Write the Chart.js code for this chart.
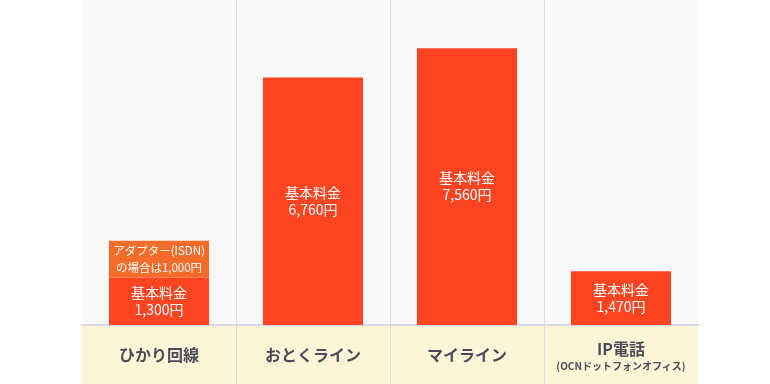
<!DOCTYPE html>
<html>
<head>
<meta charset="utf-8">
<script src="https://cdn.jsdelivr.net/npm/chart.js@4"></script>
<style>
  html, body { margin: 0; padding: 0; background: #fff; }
  #wrap { width: 770px; height: 384px; }
</style>
</head>
<body>
<div id="wrap"><canvas id="grafico"></canvas></div>
<script>
// datos
var categorias = ["ひかり回線", "おとくライン", "マイライン", "IP電話"];
var subtitulos = ["", "", "", "(OCNドットフォンオフィス)"];
var basico = [1300, 6760, 7560, 1470];
var adaptador = [1000, 0, 0, 0];

var fuente = '"Noto Sans CJK JP", "Noto Sans", sans-serif';

function yen(v) {
  return v.toLocaleString("en-US") + "円";
}

// fondo del área y franja beige de las categorías
var fondo = {
  id: "fondo",
  beforeDraw: function (chart) {
    var c = chart.ctx, a = chart.chartArea;
    c.save();
    c.fillStyle = "#f9f9f9";
    c.fillRect(a.left, a.top, a.right - a.left, a.bottom - a.top);
    c.fillStyle = "#fef4d6";
    c.fillRect(a.left, a.bottom, a.right - a.left, chart.height - a.bottom);
    c.restore();
  },
  afterDraw: function (chart) {
    var c = chart.ctx, x = chart.scales.x;
    c.save();
    c.fillStyle = "#4b4b5b";
    c.font = "bold 10px " + fuente;
    c.textAlign = "center";
    c.textBaseline = "middle";
    subtitulos.forEach(function (s, i) {
      if (s) c.fillText(s, x.getPixelForValue(i), 366);
    });
    c.restore();
  }
};

// textos blancos dentro de cada barra
var etiquetas = {
  id: "etiquetas",
  afterDatasetsDraw: function (chart) {
    var c = chart.ctx;
    c.save();
    c.fillStyle = "#ffffff";
    c.textAlign = "center";
    c.textBaseline = "middle";
    chart.data.datasets.forEach(function (ds, d) {
      var meta = chart.getDatasetMeta(d);
      meta.data.forEach(function (bar, i) {
        var v = ds.data[i];
        if (!v) return;
        var p = bar.getCenterPoint();
        var lineas, tam;
        if (d === 0) {
          lineas = ["基本料金", yen(v)];
          tam = 14;
        } else {
          lineas = ["アダプター(ISDN)", "の場合は" + yen(v)];
          tam = 11.5;
        }
        c.font = tam + "px " + fuente;
        c.fillText(lineas[0], p.x, p.y - 8.5);
        c.fillText(lineas[1], p.x, p.y + 8.5);
      });
    });
    c.restore();
  }
};

var ctx = document.getElementById("grafico").getContext("2d");
var chart = new Chart(ctx, {
  type: "bar",
  data: {
    labels: categorias,
    datasets: [
      {
        data: basico,
        backgroundColor: "#ff4422",
        borderWidth: 0,
        barPercentage: 0.65,
        categoryPercentage: 1
      },
      {
        data: adaptador,
        backgroundColor: "#f56c2a",
        borderWidth: 0,
        barPercentage: 0.65,
        categoryPercentage: 1
      }
    ]
  },
  options: {
    responsive: true,
    maintainAspectRatio: false,
    animation: false,
    layout: { padding: { left: 82, right: 72, top: 0, bottom: 0 } },
    plugins: {
      legend: { display: false },
      tooltip: { enabled: false }
    },
    scales: {
      x: {
        stacked: true,
        grid: {
          offset: true,
          color: function (c) {
            return c.index > 0 ? "#dcdce4" : "transparent";
          },
          lineWidth: 1,
          tickLength: 59
        },
        border: { display: true, color: "#d8d8e0", width: 2 },
        ticks: {
          color: "#4b4b5b",
          padding: -39,
          maxRotation: 0,
          font: function (c) {
            return {
              family: fuente,
              size: 16,
              weight: "bold",
              lineHeight: c.index === 3 ? 0.45 : 1.2
            };
          }
        },
        afterFit: function (s) {
          s.height = 59;
        }
      },
      y: {
        stacked: true,
        display: false,
        min: 0,
        max: 8880
      }
    }
  },
  plugins: [fondo, etiquetas]
});
</script>
</body>
</html>
